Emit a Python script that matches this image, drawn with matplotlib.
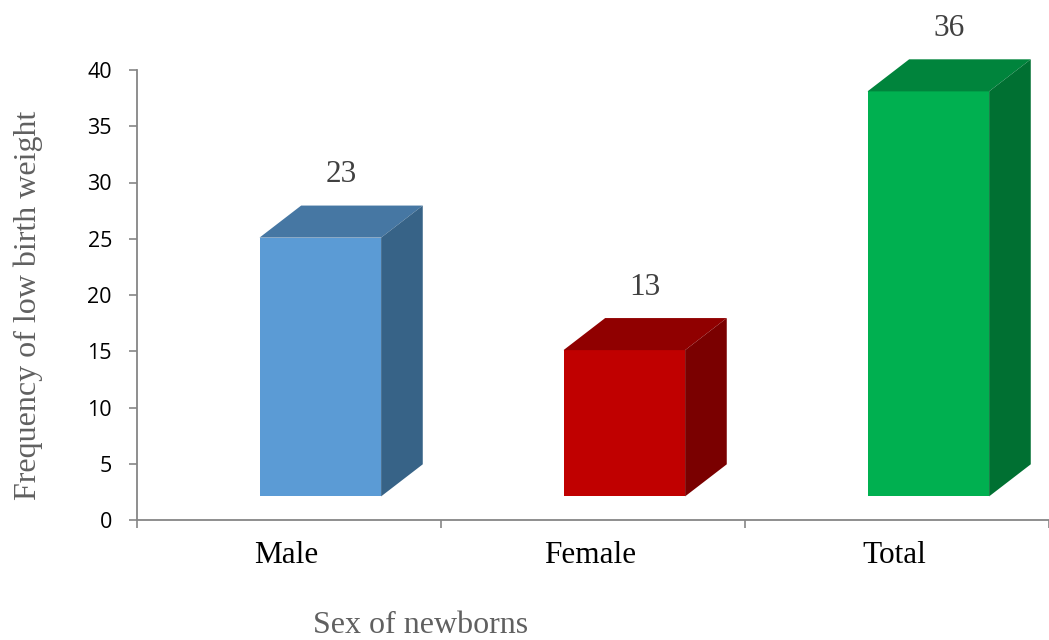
import matplotlib
matplotlib.use("Agg")
import matplotlib.pyplot as plt
from matplotlib.patches import Polygon

categories = ["Male", "Female", "Total"]
values = [23, 13, 36]
front_colors = ["#5B9BD5", "#C00000", "#00B050"]
top_colors = ["#4677A3", "#900000", "#00843C"]
side_colors = ["#376387", "#7A0000", "#007032"]
yticks = [0, 5, 10, 15, 20, 25, 30, 35, 40]

W, H = 1049, 640
fig = plt.figure(figsize=(W / 100, H / 100), dpi=100)
ax = fig.add_axes([137 / W, 120 / H, (W - 137) / W, 450 / H])

base = 2.1
offset = -0.097
width = 0.40
dx = 0.137
dy = 2.85

x = list(range(len(categories)))
ax.bar([xi + offset for xi in x], values, width=width, bottom=base,
       align="edge", color=front_colors, edgecolor="none", zorder=3, clip_on=False)
for xi, v, tc, sc in zip(x, values, top_colors, side_colors):
    x0 = xi + offset
    x1 = x0 + width
    top = base + v
    ax.add_patch(Polygon([(x0, top), (x1, top), (x1 + dx, top + dy), (x0 + dx, top + dy)],
                         closed=True, facecolor=tc, edgecolor="none", zorder=3, clip_on=False))
    ax.add_patch(Polygon([(x1, base), (x1 + dx, base + dy), (x1 + dx, top + dy), (x1, top)],
                         closed=True, facecolor=sc, edgecolor="none", zorder=3, clip_on=False))
    ax.text((x0 + x1 + dx) / 2, top + dy + 2.75, str(v), ha="center", va="center",
            fontsize=22.5, family="Liberation Serif", color="#404040", clip_on=False)

ax.set_xlim(-0.5, 2.465)
ax.set_ylim(0, 40)
ax.set_yticks(yticks)
ax.set_yticklabels([str(t) for t in yticks], fontsize=15.5, family="Open Sans", color="black")
ax.set_xticks([-0.5, 0.5, 1.5, 2.5])
ax.set_xticklabels([])
ax.tick_params(axis="both", color="#868686", width=1.2, length=6)
ax.tick_params(axis="y", pad=12)

for xi, c in zip(x, categories):
    ax.text(xi - 0.01, -3.15, c, ha="center", va="center", fontsize=22.5,
            family="Liberation Serif", color="black", clip_on=False)

for s in ["top", "right"]:
    ax.spines[s].set_visible(False)
for s in ["left", "bottom"]:
    ax.spines[s].set_color("#868686")
    ax.spines[s].set_linewidth(1.3)

fig.text(28 / W, 1 - 305 / H, "Frequency of low birth weight", rotation=90,
         ha="center", va="center", fontsize=23, family="Liberation Serif", color="#606060")
fig.text(421 / W, 1 - 633 / H, "Sex of newborns", ha="center", va="baseline",
         fontsize=23, family="Liberation Serif", color="#606060")

fig.savefig("out.png", dpi=100)
